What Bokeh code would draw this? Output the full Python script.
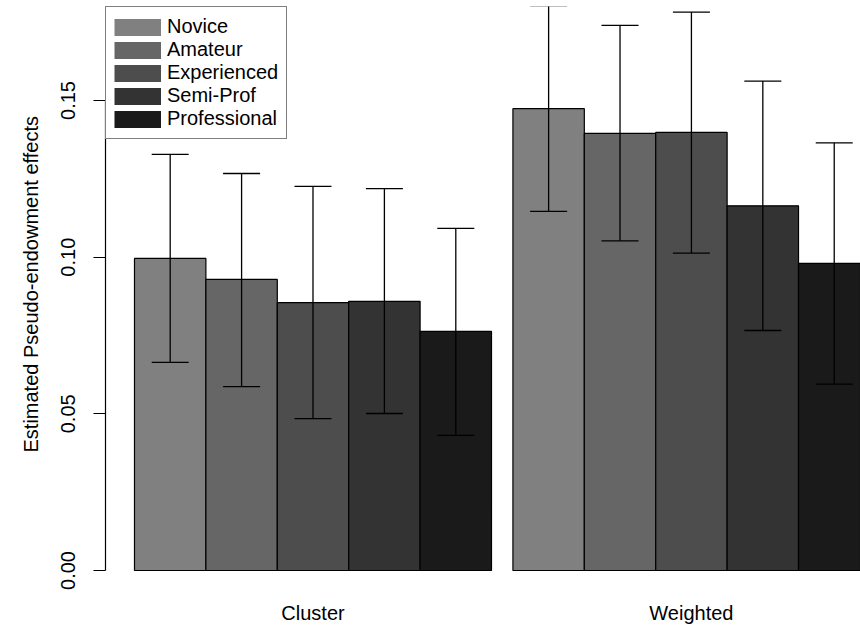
import numpy as np
from bokeh.plotting import figure
from bokeh.models import (ColumnDataSource, Whisker, TeeHead, Legend, LegendItem,
                          FixedTicker, Range1d, Title)
from bokeh.embed import file_html
from bokeh.resources import INLINE

# ---------------- data ----------------
groups = ["Cluster", "Weighted"]
levels = ["Novice", "Amateur", "Experienced", "Semi-Prof", "Professional"]
cluster_est = [0.0996, 0.0929, 0.0855, 0.0859, 0.0763]
cluster_lo = [0.0664, 0.0587, 0.0485, 0.0501, 0.0431]
cluster_hi = [0.1328, 0.1267, 0.1226, 0.1219, 0.1092]
weighted_est = [0.1474, 0.1395, 0.1398, 0.1164, 0.0980]
weighted_lo = [0.1146, 0.1052, 0.1013, 0.0766, 0.0595]
weighted_hi = [0.1802, 0.1740, 0.1782, 0.1562, 0.1365]
y_ticks = [0.0, 0.05, 0.10, 0.15]
y_tick_labels = ["0.00", "0.05", "0.10", "0.15"]
y_title = "Estimated Pseudo-endowment effects"

# ---------------- style ----------------
fills = ["#808080", "#666666", "#4D4D4D", "#333333", "#1A1A1A"]
FONT = "Liberation Sans"
FS = "20px"
group_gap = 0.3

est = [cluster_est, weighted_est]
lo = [cluster_lo, weighted_lo]
hi = [cluster_hi, weighted_hi]

xs, tops, lows, highs, cols = [], [], [], [], []
centers = []
for gi, g in enumerate(groups):
    gx = []
    for li, lvl in enumerate(levels):
        x = gi * (len(levels) + group_gap) + li + 0.5
        gx.append(x)
        xs.append(x)
        tops.append(est[gi][li])
        lows.append(lo[gi][li])
        highs.append(hi[gi][li])
        cols.append(fills[li])
    centers.append(float(np.mean(gx)))

src = ColumnDataSource(dict(x=xs, top=tops, lower=lows, upper=highs, color=cols))

p = figure(width=860, height=626, output_backend="svg", toolbar_location=None,
           x_range=Range1d(-0.406, 10.168), y_range=Range1d(-0.00415, 0.18),
           min_border_left=105, min_border_right=0, min_border_top=6,
           min_border_bottom=43, outline_line_color=None,
           background_fill_color="white", border_fill_color="white")
p.grid.grid_line_color = None

p.vbar(x="x", top="top", bottom=0, width=1.0, source=src, fill_color="color",
       line_color="black", line_width=1.2)

wh = Whisker(base="x", upper="upper", lower="lower", source=src, dimension="height",
             line_color="black", line_width=1.3, level="annotation",
             upper_head=TeeHead(size=37, line_color="black", line_width=1.3),
             lower_head=TeeHead(size=37, line_color="black", line_width=1.3))
p.add_layout(wh)

# y axis
ya = p.yaxis[0]
ya.ticker = FixedTicker(ticks=y_ticks)
ya.major_label_overrides = {t: s for t, s in zip(y_ticks, y_tick_labels)}
ya.bounds = (y_ticks[0], y_ticks[-1])
ya.major_tick_out = 12
ya.major_tick_in = 0
ya.minor_tick_line_color = None
ya.axis_line_color = "black"
ya.axis_line_width = 1.2
ya.major_tick_line_width = 1.2
ya.major_label_orientation = "vertical"
ya.major_label_standoff = 18
ya.major_label_text_font = FONT
ya.major_label_text_font_size = FS
ya.major_label_text_color = "black"

# x axis (group names only)
xa = p.xaxis[0]
xa.ticker = FixedTicker(ticks=centers)
xa.major_label_overrides = {c: g for c, g in zip(centers, groups)}
xa.axis_line_color = None
xa.major_tick_line_color = None
xa.minor_tick_line_color = None
xa.major_tick_out = 0
xa.major_label_standoff = 18
xa.major_label_text_font = FONT
xa.major_label_text_font_size = FS
xa.major_label_text_line_height = 1.0
xa.major_label_text_color = "black"

# y title (as a side title so it can sit off-centre like the original)
p.add_layout(Title(text=y_title, align="left", offset=131, vertical_align="bottom",
                   standoff=33, text_font=FONT, text_font_size=FS,
                   text_font_style="normal", text_color="black"), "left")

# legend
items = []
for lvl, col in zip(levels, fills):
    r = p.line(x=[np.nan], y=[np.nan], line_color=col, line_width=17)
    items.append(LegendItem(label=lvl, renderers=[r]))
legend = Legend(items=items, location="top_left", border_line_color="black",
                border_line_width=1.2, background_fill_color="white",
                background_fill_alpha=1.0, padding=8, spacing=0, margin=0,
                label_height=20, glyph_height=20, glyph_width=47, label_standoff=6,
                label_text_font=FONT, label_text_font_size=FS,
                label_text_color="black")
p.add_layout(legend)

open("out.html", "w").write(file_html(p, INLINE))
